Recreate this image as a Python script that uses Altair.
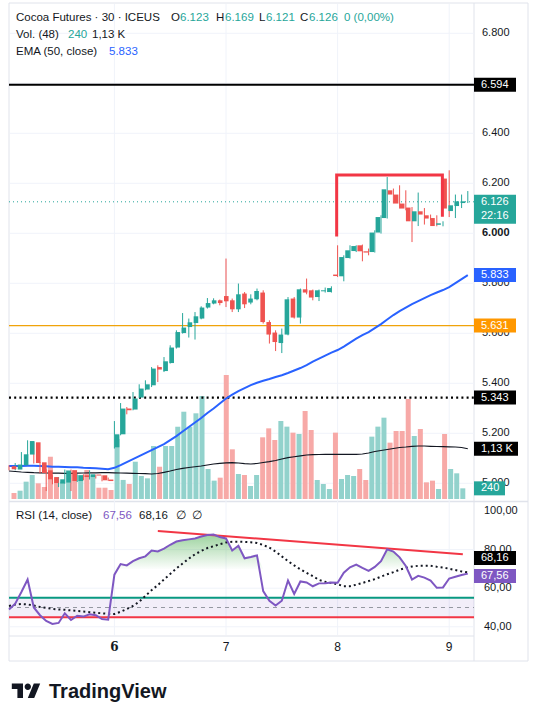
import altair as alt
import pandas as pd
import numpy as np

# ---------------- data ----------------
opens = [5068,5055,5072,5115,5164,5084,5052,5025,4999,5003,5052,5009,5032,5025,5035,5032,5015,
         5144,5196,5299,5295,5343,5375,5392,5465,5449,5481,5543,5601,5625,5641,5659,5703,5719,5732,
         5749,5732,5696,5759,5723,5736,5763,5645,5603,5561,5595,5739,5663,5776,5772,5745,5768,5765,
         5835,5828,5901,5929,5952,5928,5925,6003,6061,6172,6155,6119,6103,6048,6088,6072,6061,6036,
         6219,6089,6109,6123]
highs = [5072,5081,5125,5172,5165,5085,5056,5032,5025,5055,5055,5036,5036,5052,5035,5032,5023,
         5249,5321,5305,5365,5396,5412,5465,5472,5505,5552,5612,5681,5659,5685,5708,5741,5740,5735,
         5899,5739,5799,5765,5756,5779,5772,5652,5612,5619,5745,5745,5779,5819,5775,5775,5783,5788,
         5952,5912,5952,5952,5955,5939,6012,6072,6225,6179,6192,6172,6105,6163,6101,6075,6072,6048,
         6252,6155,6155,6169]
lows = [5052,5052,5069,5112,5079,5040,4969,4996,4985,4999,4969,5005,5012,5015,5019,5008,5009,
        5139,5192,5276,5292,5341,5372,5385,5405,5445,5479,5539,5599,5583,5575,5656,5699,5716,5712,
        5705,5685,5685,5701,5716,5732,5639,5559,5529,5521,5592,5659,5639,5756,5732,5729,5763,5763,
        5825,5808,5899,5925,5888,5912,5923,5999,6059,6119,6099,6092,5965,6029,6035,6052,6028,6028,
        6065,6061,6101,6121]
closes = [5056,5075,5116,5169,5081,5041,5016,5001,5016,5049,5009,5032,5025,5036,5031,5012,5009,
          5196,5299,5292,5339,5379,5396,5459,5455,5488,5543,5605,5623,5644,5668,5703,5721,5732,5721,
          5728,5696,5756,5716,5739,5769,5645,5595,5565,5595,5736,5663,5776,5763,5743,5772,5772,5781,
          5829,5905,5932,5949,5928,5923,6003,6065,6176,6155,6119,6099,6048,6088,6075,6059,6029,6038,
          6099,6112,6128,6126]
volumes = [135,187,390,540,353,270,951,473,390,653,653,540,653,502,254,254,203,
           1350,429,338,839,518,465,1193,726,1193,1193,1626,1964,1626,1928,2318,675,413,480,
           2790,1118,563,540,293,540,1388,1590,1328,1755,1628,1493,1463,1980,1553,428,338,225,
           1493,450,540,518,675,428,1403,1628,1830,1268,1530,1530,2250,1418,1575,375,413,225,
           1463,675,578,240]
vol_ma = [630,619,608,601,592,590,585,583,581,578,578,581,585,587,590,592,592,
          590,585,581,578,574,569,563,574,601,630,664,691,709,725,743,765,788,803,
          815,817,810,794,788,799,821,839,866,900,929,950,972,990,997,1001,1006,1006,
          1006,1006,1006,1006,1013,1035,1069,1091,1114,1136,1159,1170,1186,1193,1193,1186,1181,1177,
          1175,1170,1159,1130]
ema50 = [5069,5069,5069,5070,5070,5069,5068,5066,5066,5065,5064,5064,5062,5061,5060,5058,5056,
         5062,5073,5085,5097,5109,5121,5133,5145,5157,5173,5189,5207,5225,5243,5261,5281,5299,5319,
         5339,5355,5369,5381,5393,5402,5410,5417,5425,5432,5441,5451,5461,5473,5487,5499,5511,5523,
         5533,5547,5563,5579,5593,5605,5621,5637,5655,5673,5689,5703,5717,5729,5741,5753,5763,5773,
         5785,5801,5817,5833]
rsi = [49,52,58,64.5,50,46,43,41.5,42,47,43.5,45.7,45.3,46.5,46,44,43.7,
       67,72.5,71.8,74,75.5,76.5,79.5,79,80.5,82.5,84.2,84.8,85.3,85.8,86.8,87.6,87.8,86.5,
       85.8,79.5,82,75.5,76.2,77,58.5,53.5,51,53.5,64,57,63.5,63,61,62.5,62.6,63,
       62.8,68,70.8,72.2,70.5,69,71,74,80.2,79,76,71.5,64.5,66.4,65.5,64,60.2,60.4,
       65,65.9,66.8,67.56]
rsi_ma = [50.8,51.5,51.8,51.6,51,50.3,49.8,49.3,49,48.8,48.5,48.2,47.9,47.6,47.3,47,46.7,
          46.6,47.8,49.2,50.8,53,56,59,61.6,64.5,67.4,70.2,72.8,75.3,77.6,79.3,80.8,81.8,82.8,
          83.7,84.1,84.1,84,83.8,83.4,82.4,81,79,76.5,74,71.8,69.8,68,66.2,64.3,63.3,62.7,
          62,61,61,61.8,62.7,63.7,64.7,66,67.2,68.3,69.6,70.5,71.2,71.6,71.6,71.6,71.1,70.7,
          70.1,69.4,68.7,68.16]

day_labels = ["6", "7", "8", "9"]
day_first_bar = [17, 35, 53, 71]
price_ticks = [6800, 6600, 6400, 6200, 6000, 5800, 5600, 5400, 5200, 5000]
price_ticks_shown = [6800, 6400, 6200, 6000, 5800, 5600, 5400, 5200, 5000]   # 6.600 sits under a badge
rsi_ticks = [100, 80, 60, 40]
rsi_tick_labels = ["100,00", "80,00", "60,00", "40,00"]
level_black = 6594
level_orange = 5631
level_dotted = 5343
last_close = 6126
last_vol = 240
last_vol_ma = 1130
last_ema = 5833
last_rsi = 67.56
last_rsi_ma = 68.16
bracket_bar = [52.85, 52.85, 69.9, 69.9]
bracket_price = [5987, 6233, 6233, 6066]
rsi_trend_bar = [24, 73.2]
rsi_trend_val = [89.7, 77.6]
header1 = ["Cocoa Futures · 30 · ICEUS", "O", "6.123", "H", "6.169", "L", "6.121", "C", "6.126", "0 (0,00%)"]
header2 = ["Vol. (48)", "240", "1,13 K"]
header3 = ["EMA (50, close)", "5.833"]
header_rsi = ["RSI (14, close)", "67,56", "68,16", "∅", "∅"]

# ---------------- styles / layout ----------------
FONT = "Liberation Sans"
HS = 11.5
INK = "#131722"
UP, DN = "#26a69a", "#ef5350"
UPV, DNV = "#92d2cc", "#f7a9a7"
BLUE = "#2962ff"
PURPLE = "#7e57c2"
GRID = "#f0f3fa"
FRAME = "#e0e3eb"

n = len(opens)
xs = alt.Scale(domain=[0, n - 1], range=[9, 467.8], nice=False, zero=False)
ps = alt.Scale(domain=[4933.2, 6933.2], range=[500, 0], nice=False, zero=False)
vs = alt.Scale(domain=[0, 2250], range=[499, 399], nice=False, zero=False)
rs = alt.Scale(domain=[40, 100], range=[626.8, 511], nice=False, zero=False)

df = pd.DataFrame({"i": range(n), "o": opens, "h": highs, "l": lows, "c": closes,
                   "v": volumes, "vma": vol_ma, "ema": ema50, "rsi": rsi, "rsima": rsi_ma})
up = df.c >= df.o
df["col"] = np.where(up, UP, DN)
df["vcol"] = np.where(up, UPV, DNV)
df["btop"] = df[["o", "c"]].max(axis=1)
df["bbot"] = df[["o", "c"]].min(axis=1)
small = (df.btop - df.bbot) < 4
df.loc[small, "btop"] += 2
df.loc[small, "bbot"] -= 2
df["ob"] = df.rsi.clip(lower=70)

X = alt.X("i:Q", scale=xs, axis=None)


def one(**kw):
    return alt.Chart(pd.DataFrame({k: [v] for k, v in kw.items()} if kw else {"a": [0]}))


def px_rule(x, y, x2, y2, color, w=1.0, dash=None):
    m = dict(color=color, strokeWidth=w)
    if dash:
        m["strokeDash"] = dash
    return one().mark_rule(**m).encode(x=alt.value(x), y=alt.value(y), x2=alt.value(x2), y2=alt.value(y2))


def txt(s, x, y, color=INK, size=HS, weight="normal", align="left"):
    return one(t=s).mark_text(align=align, baseline="middle", font=FONT, fontSize=size,
                              fontWeight=weight, color=color).encode(
        x=alt.value(x), y=alt.value(y), text="t:N")


def hline(value, scale, color, w=1.0, dash=None, x0=9, x1=474):
    m = dict(color=color, strokeWidth=w)
    if dash:
        m["strokeDash"] = dash
    return one(p=value).mark_rule(**m).encode(
        y=alt.Y("p:Q", scale=scale, axis=None), x=alt.value(x0), x2=alt.value(x1))


def badge(value, scale, label, color, w=42, up_px=7, down_px=7, yoff=0, size=11):
    s = w / 2
    path = f"M-1,{-up_px / s:.4f}L1,{-up_px / s:.4f}L1,{down_px / s:.4f}L-1,{down_px / s:.4f}Z"
    box = one(p=value).mark_point(shape=path, size=w * w, filled=True, opacity=1, color=color,
                                  strokeWidth=0, yOffset=yoff).encode(
        x=alt.value(474 + s), y=alt.Y("p:Q", scale=scale, axis=None))
    t = one(p=value, t=label).mark_text(align="left", baseline="middle", font=FONT, fontSize=size,
                                        color="white", yOffset=yoff).encode(
        x=alt.value(481), y=alt.Y("p:Q", scale=scale, axis=None), text="t:N")
    return [box, t]


layers = []

# frame and separators
layers += [
    px_rule(9, 3, 528, 3, FRAME), px_rule(9, 661, 528, 661, FRAME),
    px_rule(9, 3, 9, 661, FRAME), px_rule(528, 3, 528, 661, FRAME),
    px_rule(474, 3, 474, 661, FRAME),
    px_rule(9, 501.5, 528, 501.5, FRAME, 1.5),
    px_rule(9, 636, 474, 636, FRAME),
]

# grids
grid_v = pd.DataFrame({"i": day_first_bar})
layers.append(alt.Chart(grid_v).mark_rule(color=GRID, strokeWidth=1).encode(
    x=X, y=alt.value(4), y2=alt.value(635)))
layers.append(alt.Chart(pd.DataFrame({"p": price_ticks})).mark_rule(color=GRID, strokeWidth=1).encode(
    y=alt.Y("p:Q", scale=ps, axis=None), x=alt.value(10), x2=alt.value(474)))
layers.append(alt.Chart(pd.DataFrame({"r": [80, 60, 40]})).mark_rule(color=GRID, strokeWidth=1).encode(
    y=alt.Y("r:Q", scale=rs, axis=None), x=alt.value(10), x2=alt.value(474)))

# volume
layers.append(alt.Chart(df).mark_bar(size=5).encode(
    x=X, y=alt.Y("v:Q", scale=vs, axis=None), y2=alt.datum(0),
    color=alt.Color("vcol:N", scale=None)))
layers.append(alt.Chart(df).mark_line(color=INK, strokeWidth=1.2).encode(
    x=X, y=alt.Y("vma:Q", scale=vs, axis=None)))

# price levels
layers += [
    hline(level_orange, ps, "#f0a30a", 1.2),
    hline(last_close, ps, UP, 1, [1, 3]),
    hline(level_black, ps, "#000000", 2),
    hline(level_dotted, ps, "#000000", 2.2, [2, 3.2]),
]

# EMA
layers.append(alt.Chart(df).mark_line(color=BLUE, strokeWidth=2).encode(
    x=X, y=alt.Y("ema:Q", scale=ps, axis=None)))

# candles
layers.append(alt.Chart(df).mark_rule(strokeWidth=1).encode(
    x=X, y=alt.Y("l:Q", scale=ps, axis=None), y2="h:Q", color=alt.Color("col:N", scale=None)))
layers.append(alt.Chart(df).mark_bar(size=4.6).encode(
    x=X, y=alt.Y("bbot:Q", scale=ps, axis=None), y2="btop:Q", color=alt.Color("col:N", scale=None)))

# red bracket drawing
br = pd.DataFrame({"k": range(4), "i": bracket_bar, "p": bracket_price})
layers.append(alt.Chart(br).mark_line(color="#f23645", strokeWidth=3, strokeJoin="miter").encode(
    x=X, y=alt.Y("p:Q", scale=ps, axis=None), order="k:Q"))

# RSI pane
layers.append(one(a=45, b=55).mark_rect(color=PURPLE, opacity=0.1).encode(
    x=alt.value(9), x2=alt.value(474), y=alt.Y("a:Q", scale=rs, axis=None), y2="b:Q"))
layers += [
    hline(50, rs, "#9598a1", 1, [4, 4]),
    hline(55, rs, "#089981", 2),
    hline(45, rs, "#f23645", 2),
]
grad = alt.Gradient(gradient="linear",
                    stops=[alt.GradientStop(color="rgba(76,175,80,0.55)", offset=0),
                           alt.GradientStop(color="rgba(76,175,80,0.02)", offset=1)],
                    x1=0, x2=0, y1=0, y2=1)
layers.append(alt.Chart(df).mark_area(color=grad).encode(
    x=X, y=alt.Y("ob:Q", scale=rs, axis=None), y2=alt.datum(70)))
tr = pd.DataFrame({"i": rsi_trend_bar, "r": rsi_trend_val})
layers.append(alt.Chart(tr).mark_line(color="#f23645", strokeWidth=2).encode(
    x=X, y=alt.Y("r:Q", scale=rs, axis=None)))
layers.append(alt.Chart(df).mark_line(color=INK, strokeWidth=2, strokeDash=[2, 3]).encode(
    x=X, y=alt.Y("rsima:Q", scale=rs, axis=None)))
layers.append(alt.Chart(df).mark_line(color=PURPLE, strokeWidth=2).encode(
    x=X, y=alt.Y("rsi:Q", scale=rs, axis=None)))

# right axis labels
pt = pd.DataFrame({"p": price_ticks_shown, "t": [f"{v / 1000:.3f}" for v in price_ticks_shown]})
layers.append(alt.Chart(pt[pt.p != 6000]).mark_text(align="left", baseline="middle", font=FONT,
                                                    fontSize=11, color=INK).encode(
    x=alt.value(482), y=alt.Y("p:Q", scale=ps, axis=None), text="t:N"))
layers.append(alt.Chart(pt[pt.p == 6000]).mark_text(align="left", baseline="middle", font=FONT,
                                                    fontSize=11, fontWeight="bold", color=INK).encode(
    x=alt.value(482), y=alt.Y("p:Q", scale=ps, axis=None), text="t:N"))
rt = pd.DataFrame({"r": rsi_ticks, "t": rsi_tick_labels})
layers.append(alt.Chart(rt).mark_text(align="left", baseline="middle", font=FONT,
                                      fontSize=11, color=INK).encode(
    x=alt.value(484), y=alt.Y("r:Q", scale=rs, axis=None), text="t:N"))

# badges
layers += badge(level_black, ps, "6.594", "#000000")
layers += badge(last_close, ps, "6.126", UP, down_px=22)
layers.append(one(p=last_close, t="22:16").mark_text(align="left", baseline="middle", font=FONT,
                                                      fontSize=11, color="white", yOffset=14).encode(
    x=alt.value(481), y=alt.Y("p:Q", scale=ps, axis=None), text="t:N"))
layers += badge(last_ema, ps, "5.833", BLUE)
layers += badge(level_orange, ps, "5.631", "#ff9800")
layers += badge(level_dotted, ps, "5.343", "#000000")
layers += badge(last_vol_ma, vs, "1,13 K", "#000000", w=44)
layers += badge(last_vol, vs, "240", UP, w=31)
layers += badge(last_rsi_ma, rs, "68,16", "#000000", yoff=-14.5)
layers += badge(last_rsi, rs, "67,56", PURPLE, yoff=2.5)

# time axis
tl = pd.DataFrame({"i": day_first_bar, "t": day_labels})
layers.append(alt.Chart(tl.iloc[:1]).mark_text(baseline="middle", font="DejaVu Serif", fontSize=12,
                                               fontWeight="bold", color=INK).encode(
    x=X, y=alt.value(647), text="t:N"))
layers.append(alt.Chart(tl.iloc[1:]).mark_text(baseline="middle", font=FONT, fontSize=12,
                                               color=INK).encode(
    x=X, y=alt.value(647), text="t:N"))

# legends / header
layers += [
    txt(header1[0], 16, 18), txt(header1[1], 171, 18), txt(header1[2], 180, 18, UP),
    txt(header1[3], 216, 18), txt(header1[4], 225, 18, UP),
    txt(header1[5], 259, 18), txt(header1[6], 266, 18, UP),
    txt(header1[7], 300, 18), txt(header1[8], 309, 18, UP),
    txt(header1[9], 344, 18, UP),
    txt(header2[0], 16, 35), txt(header2[1], 68, 35, UP), txt(header2[2], 92, 35),
    txt(header3[0], 16, 52), txt(header3[1], 109, 52, BLUE),
    txt(header_rsi[0], 16, 516), txt(header_rsi[1], 103, 516, PURPLE), txt(header_rsi[2], 139, 516),
    txt(header_rsi[3], 176, 516), txt(header_rsi[4], 192, 516),
]

# logo
logo_path = ("M-0.222,0.444L-0.611,0.444L-0.611,-0.167L-1,-0.167L-1,-0.556L-0.222,-0.556Z"
             "M0.556,0.444L0.111,0.444L0.528,-0.556L0.972,-0.556Z"
             "M0.333,-0.333A0.222,0.222 0 1 1 -0.111,-0.333A0.222,0.222 0 1 1 0.333,-0.333Z")
layers.append(one().mark_point(shape=logo_path, size=829, filled=True, opacity=1, color=INK,
                               strokeWidth=0).encode(x=alt.value(26.2), y=alt.value(691.5)))
layers.append(txt("TradingView", 49, 692, INK, 20, "bold"))

chart = alt.layer(*layers).resolve_scale(x="independent", y="independent").properties(
    width=536, height=709, autosize=alt.AutoSizeParams(type="none"), padding=0
).configure_view(stroke=None)

chart.save("out.html", embed_options={"renderer": "svg", "actions": False})
